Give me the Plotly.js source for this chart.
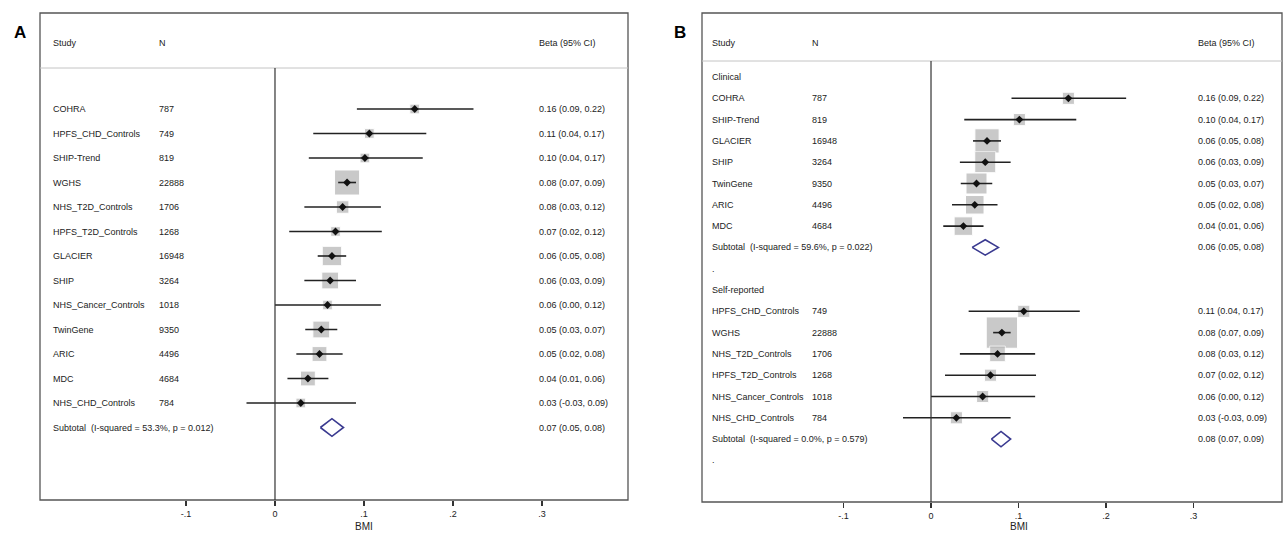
<!DOCTYPE html>
<html>
<head>
<meta charset="utf-8">
<script src="https://cdn.plot.ly/plotly-3.0.1.min.js"></script>
<style>body{margin:0;background:#fff}#chart{width:1283px;height:534px}</style>
</head>
<body>
<div id="chart"></div>
<script>
// panel A: all studies
const studiesA = ['COHRA','HPFS_CHD_Controls','SHIP-Trend','WGHS','NHS_T2D_Controls','HPFS_T2D_Controls','GLACIER','SHIP','NHS_Cancer_Controls','TwinGene','ARIC','MDC','NHS_CHD_Controls']
const nA = ['787','749','819','22888','1706','1268','16948','3264','1018','9350','4496','4684','784']
const estA = [0.157,0.106,0.101,0.081,0.076,0.068,0.064,0.062,0.059,0.052,0.050,0.037,0.029]
const loA = [0.092,0.043,0.038,0.071,0.033,0.016,0.048,0.033,0.000,0.034,0.024,0.014,-0.032]
const hiA = [0.223,0.170,0.166,0.091,0.119,0.120,0.080,0.091,0.119,0.070,0.076,0.060,0.091]
const wA = [3,3,3,20,5,3,12,9,3,9,7,7,3]
const ciA = ['0.16 (0.09, 0.22)','0.11 (0.04, 0.17)','0.10 (0.04, 0.17)','0.08 (0.07, 0.09)','0.08 (0.03, 0.12)','0.07 (0.02, 0.12)','0.06 (0.05, 0.08)','0.06 (0.03, 0.09)','0.06 (0.00, 0.12)','0.05 (0.03, 0.07)','0.05 (0.02, 0.08)','0.04 (0.01, 0.06)','0.03 (-0.03, 0.09)']
const subA = {label: 'Subtotal  (I-squared = 53.3%, p = 0.012)', est: 0.064, lo: 0.051, hi: 0.077, ci: '0.07 (0.05, 0.08)'}

// panel B: clinical / self-reported
const studiesB1 = ['COHRA','SHIP-Trend','GLACIER','SHIP','TwinGene','ARIC','MDC']
const nB1 = ['787','819','16948','3264','9350','4496','4684']
const estB1 = [0.157,0.101,0.064,0.062,0.052,0.050,0.037]
const loB1 = [0.092,0.038,0.048,0.033,0.034,0.024,0.014]
const hiB1 = [0.223,0.166,0.080,0.091,0.070,0.076,0.060]
const wB1 = [3,3,12,9,9,7,7]
const ciB1 = ['0.16 (0.09, 0.22)','0.10 (0.04, 0.17)','0.06 (0.05, 0.08)','0.06 (0.03, 0.09)','0.05 (0.03, 0.07)','0.05 (0.02, 0.08)','0.04 (0.01, 0.06)']
const subB1 = {label: 'Subtotal  (I-squared = 59.6%, p = 0.022)', est: 0.062, lo: 0.047, hi: 0.077, ci: '0.06 (0.05, 0.08)'}
const studiesB2 = ['HPFS_CHD_Controls','WGHS','NHS_T2D_Controls','HPFS_T2D_Controls','NHS_Cancer_Controls','NHS_CHD_Controls']
const nB2 = ['749','22888','1706','1268','1018','784']
const estB2 = [0.106,0.081,0.076,0.068,0.059,0.029]
const loB2 = [0.043,0.071,0.033,0.016,0.000,-0.032]
const hiB2 = [0.170,0.091,0.119,0.120,0.119,0.091]
const wB2 = [3,20,5,3,3,3]
const ciB2 = ['0.11 (0.04, 0.17)','0.08 (0.07, 0.09)','0.08 (0.03, 0.12)','0.07 (0.02, 0.12)','0.06 (0.00, 0.12)','0.03 (-0.03, 0.09)']
const subB2 = {label: 'Subtotal  (I-squared = 0.0%, p = 0.579)', est: 0.080, lo: 0.069, hi: 0.091, ci: '0.08 (0.07, 0.09)'}

const tickVals = [-0.1, 0, 0.1, 0.2, 0.3]
const tickText = ['-.1', '0', '.1', '.2', '.3']

const W = 1283, H = 534
const FONT = 'Liberation Sans, Arial, sans-serif'
const traces = [], annotations = [], shapes = []

function addRows(ax, rows, est, lo, hi, w, sq) {
    const xa = 'x' + (ax === 1 ? '' : ax), ya = 'y' + (ax === 1 ? '' : ax)
    traces.push({x: est, y: rows, xaxis: xa, yaxis: ya, mode: 'markers', type: 'scatter',
        marker: {symbol: 'square', color: '#b3b3b3', size: w.map(v => sq * Math.sqrt(v))}, hoverinfo: 'skip'})
    traces.push({x: est, y: rows, xaxis: xa, yaxis: ya, mode: 'markers', type: 'scatter',
        marker: {symbol: 'diamond', color: '#111', size: 6},
        error_x: {type: 'data', symmetric: false, array: hi.map((h, i) => h - est[i]),
            arrayminus: lo.map((l, i) => est[i] - l), color: '#222', thickness: 1.6, width: 0}})
}

function addDiamond(ax, row, s, half) {
    const xa = 'x' + (ax === 1 ? '' : ax), ya = 'y' + (ax === 1 ? '' : ax)
    traces.push({x: [s.lo, s.est, s.hi, s.est, s.lo], y: [row, row - half, row, row + half, row],
        xaxis: xa, yaxis: ya, mode: 'lines', type: 'scatter', line: {color: '#3a3a90', width: 1.6}, hoverinfo: 'skip'})
}

function label(x, ya, y, text) {
    annotations.push({xref: 'paper', yref: ya, x: x / W, y: y, text: text, showarrow: false,
        xanchor: 'left', font: {size: 9, color: '#222', family: FONT}})
}

// ---- panel A
const colA = [51, 157, 537], colB = [710, 810, 1196]
const rowsA = studiesA.map((_, i) => i)
addRows(1, rowsA, estA, loA, hiA, wA, 5.6)
addDiamond(1, studiesA.length, subA, 0.36)
studiesA.forEach((s, i) => { label(colA[0], 'y', i, s); label(colA[1], 'y', i, nA[i]); label(colA[2], 'y', i, ciA[i]) })
label(colA[0], 'y', studiesA.length, subA.label); label(colA[2], 'y', studiesA.length, subA.ci)

// ---- panel B
const rowsB1 = studiesB1.map((_, i) => i + 1)
const subRowB1 = studiesB1.length + 1
const headB2 = subRowB1 + 2
const rowsB2 = studiesB2.map((_, i) => headB2 + 1 + i)
const subRowB2 = headB2 + studiesB2.length + 1
addRows(2, rowsB1, estB1, loB1, hiB1, wB1, 7)
addRows(2, rowsB2, estB2, loB2, hiB2, wB2, 7)
addDiamond(2, subRowB1, subB1, 0.36)
addDiamond(2, subRowB2, subB2, 0.36)
label(colB[0], 'y2', 0, 'Clinical')
studiesB1.forEach((s, i) => { label(colB[0], 'y2', rowsB1[i], s); label(colB[1], 'y2', rowsB1[i], nB1[i]); label(colB[2], 'y2', rowsB1[i], ciB1[i]) })
label(colB[0], 'y2', subRowB1, subB1.label); label(colB[2], 'y2', subRowB1, subB1.ci)
label(colB[0], 'y2', subRowB1 + 1, '.')
label(colB[0], 'y2', headB2, 'Self-reported')
studiesB2.forEach((s, i) => { label(colB[0], 'y2', rowsB2[i], s); label(colB[1], 'y2', rowsB2[i], nB2[i]); label(colB[2], 'y2', rowsB2[i], ciB2[i]) })
label(colB[0], 'y2', subRowB2, subB2.label); label(colB[2], 'y2', subRowB2, subB2.ci)
label(colB[0], 'y2', subRowB2 + 1, '.')

// headers, boxes, panel letters
const py = v => 1 - v / H
const panels = [
    {l: 40, r: 628, b: 500, hd: 68, col: colA, letter: 'A', lx: 12, xref: 'x'},
    {l: 702, r: 1282, b: 502, hd: 61, col: colB, letter: 'B', lx: 672, xref: 'x2'}
]
panels.forEach(p => {
    shapes.push({type: 'rect', xref: 'paper', yref: 'paper', x0: p.l / W, x1: p.r / W, y0: py(p.b), y1: py(13), line: {color: '#555', width: 1.3}})
    shapes.push({type: 'line', xref: 'paper', yref: 'paper', x0: p.l / W, x1: p.r / W, y0: py(p.hd), y1: py(p.hd), line: {color: '#c4c4c4', width: 1}})
    shapes.push({type: 'line', xref: p.xref, yref: 'paper', x0: 0, x1: 0, y0: py(p.b), y1: py(p.hd), line: {color: '#333', width: 1.2}})
    ;[['Study', p.col[0]], ['N', p.col[1]], ['Beta (95% CI)', p.col[2]]].forEach(([t, x]) =>
        annotations.push({xref: 'paper', yref: 'paper', x: x / W, y: py(36), text: t, showarrow: false, xanchor: 'left', font: {size: 9, color: '#222', family: FONT}}))
    annotations.push({xref: 'paper', yref: 'paper', x: p.lx / W, y: py(21), text: '<b>' + p.letter + '</b>', showarrow: false, xanchor: 'left', font: {size: 17, color: '#000', family: FONT}})
    annotations.push({xref: p.xref, yref: 'paper', x: 0.1, y: 0, yanchor: 'bottom', text: 'BMI', showarrow: false, font: {size: 10, color: '#222', family: FONT}})
})

const xBase = {tickvals: tickVals, ticktext: tickText, ticks: 'outside', ticklen: 5, tickwidth: 1.3, tickcolor: '#333',
    showgrid: false, zeroline: false, showline: false, anchor: 'free', tickfont: {size: 9, color: '#222', family: FONT}}
const layout = {
    width: W, height: H, margin: {l: 0, r: 0, t: 0, b: 0}, showlegend: false,
    paper_bgcolor: '#fff', plot_bgcolor: 'rgba(0,0,0,0)',
    xaxis: Object.assign({}, xBase, {domain: [40 / W, 628 / W], range: [-0.264, 0.3966], position: py(500)}),
    xaxis2: Object.assign({}, xBase, {domain: [702 / W, 1282 / W], range: [-0.2617, 0.4011], position: py(502)}),
    yaxis: {domain: [0, 1], range: [(H - 109) / 24.5, -109 / 24.5], visible: false},
    yaxis2: {domain: [0, 1], range: [(H - 77) / 21.3, -77 / 21.3], visible: false, anchor: 'x2'},
    shapes: shapes, annotations: annotations
}
Plotly.newPlot('chart', traces, layout, {staticPlot: true})
</script>
</body>
</html>
